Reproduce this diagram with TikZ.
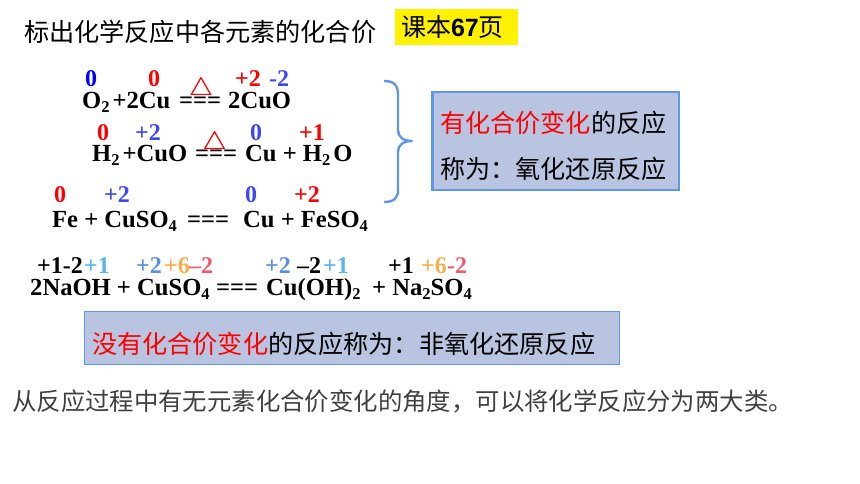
\documentclass[tikz,border=0pt]{standalone}
\usepackage{fontspec}
\setmainfont{Liberation Serif}[BoldFont={Liberation Serif Bold}]
\newfontfamily\cjk{Noto Sans CJK SC}
\newfontfamily\cjkheavy[FakeBold=1.5]{Noto Sans CJK SC}
\newfontfamily\arialfont{Liberation Sans}
\definecolor{keyblue}{HTML}{0000FF}
\definecolor{softblue}{HTML}{3F48F0}
\definecolor{skyblue}{HTML}{55B8E8}
\definecolor{midblue}{HTML}{5B8FE0}
\definecolor{amber}{HTML}{F5B04C}
\definecolor{rosy}{HTML}{EE5A6E}
\definecolor{boxfill}{HTML}{B9C4E0}
\definecolor{boxline}{HTML}{5F96E6}
\newcommand{\dn}[1]{\raisebox{-4pt}{\fontsize{16.5}{16.5}\selectfont #1}}
\tikzset{
  formula/.style={anchor=base west,inner sep=0pt,font=\bfseries\fontsize{24.6}{25}\selectfont},
  charge/.style={formula,font=\bfseries\fontsize{24}{24}\selectfont},
  heat/.style={anchor=center,inner sep=0pt,red,font=\cjkheavy\fontsize{22}{22}\selectfont},
  cntext/.style={anchor=center,inner sep=0pt,font=\cjk\fontsize{25.15}{25}\selectfont},
  notebox/.style={fill=boxfill,draw=boxline,outer sep=0pt,inner sep=0pt}
}
\begin{document}
\begin{tikzpicture}[x=1pt,y=-1pt]
      \useasboundingbox (0,0) rectangle (860,484);
      \node (title) [cntext,anchor=west] at (24,32) {标出化学反应中各元素的化合价};
      \node (page) [anchor=center,fill=yellow,minimum width=123pt,minimum height=36pt,inner sep=0pt,outer sep=0pt,font=\cjk\fontsize{25}{25}\selectfont] at (456.5,27) {课本{\arialfont\bfseries 67}页\hspace{8pt}\null};
      % first equation
      \node (oxa) [charge,keyblue] at (85,87) {0};
      \node (oxb) [charge,red] at (148,87) {0};
      \node (oxc) [charge,red] at (235,87) {+2};
      \node (oxd) [charge,softblue] at (269,87) {-2};
      \node (heata) [heat] at (201,86) {△};
      \node (eqaleft) [formula] at (82,109) {O\dn{2}\hspace{3pt}+2Cu};
      \node (eqamid) [formula] at (179,109) {===};
      \node (eqaright) [formula] at (228,109) {2CuO};
      % second equation
      \node (hya) [charge,red] at (97,141) {0};
      \node (hyb) [charge,softblue] at (135,141) {+2};
      \node (hyc) [charge,softblue] at (250,141) {0};
      \node (hyd) [charge,red] at (299,141) {+1};
      \node (heatb) [heat] at (214.5,140) {△};
      \node (eqbleft) [formula] at (92,162) {H\dn{2}\hspace{3pt}+CuO};
      \node (eqbmid) [formula] at (195,162) {===};
      \node (eqbright) [formula] at (245,162) {Cu + H\dn{2}\hspace{3pt}O};
      % third equation
      \node (fea) [charge,red] at (54,203) {0};
      \node (feb) [charge,softblue] at (104,203) {+2};
      \node (fec) [charge,softblue] at (245,203) {0};
      \node (fed) [charge,red] at (294,203) {+2};
      \node (eqcleft) [formula] at (52,227) {Fe + CuSO\dn{4}};
      \node (eqcmid) [formula] at (187,227) {===};
      \node (eqcright) [formula] at (243,227) {Cu + FeSO\dn{4}};
      % brace
      \draw [boxline,line width=2.4pt] (384,81) .. controls (394,81) and (398,85) .. (398,95) -- (398,130)
        .. controls (398,137) and (403,141) .. (412.5,141) .. controls (403,141) and (398,145) .. (398,152)
        -- (398,190) .. controls (398,198) and (394,202) .. (384,202);
      \node (redoxbox) [notebox,line width=2.4pt,anchor=north west,minimum width=246.5pt,minimum height=98pt] at (432.5,92) {};
      \node (redoxa) [cntext,anchor=west] at (440,122.5) {{\color{red}有化合价变化}的反应};
      \node (redoxb) [cntext,anchor=west] at (440,168.5) {称为：氧化还原反应};
      % fourth equation
      \node (naa) [charge] at (37,273) {+1-2};
      \node (nab) [charge,skyblue] at (84,273) {+1};
      \node (nac) [charge,midblue] at (136,273) {+2};
      \node (nad) [charge,amber] at (164,273) {+6};
      \node (nae) [charge,rosy] at (189,273) {–2};
      \node (naf) [charge,midblue] at (265,273) {+2};
      \node (nag) [charge] at (297,273) {–2};
      \node (nah) [charge,skyblue] at (323,273) {+1};
      \node (nai) [charge] at (388,273) {+1};
      \node (naj) [charge,amber] at (421,273) {+6};
      \node (nak) [charge,rosy] at (447,273) {-2};
      \node (eqdleft) [formula] at (30,295) {2NaOH + CuSO\dn{4}};
      \node (eqdmid) [formula] at (216,295) {===};
      \node (eqdright) [formula] at (266,295) {Cu(OH)\dn{2}};
      \node (eqdend) [formula] at (372,295) {+ Na\dn{2}SO\dn{4}};
      \node (plainbox) [notebox,line width=1pt,anchor=north west,minimum width=535pt,minimum height=52.5pt] at (84.5,311.5) {};
      \node (plain) [cntext,anchor=west] at (92,343.5) {{\color{red}没有化合价变化}的反应称为：非氧化还原反应};
      \node (summary) [cntext,anchor=west,black!75,font=\cjk\fontsize{24.4}{24}\selectfont] at (12,401) {从反应过程中有无元素化合价变化的角度，可以将化学反应分为两大类。};
\end{tikzpicture}
\end{document}
